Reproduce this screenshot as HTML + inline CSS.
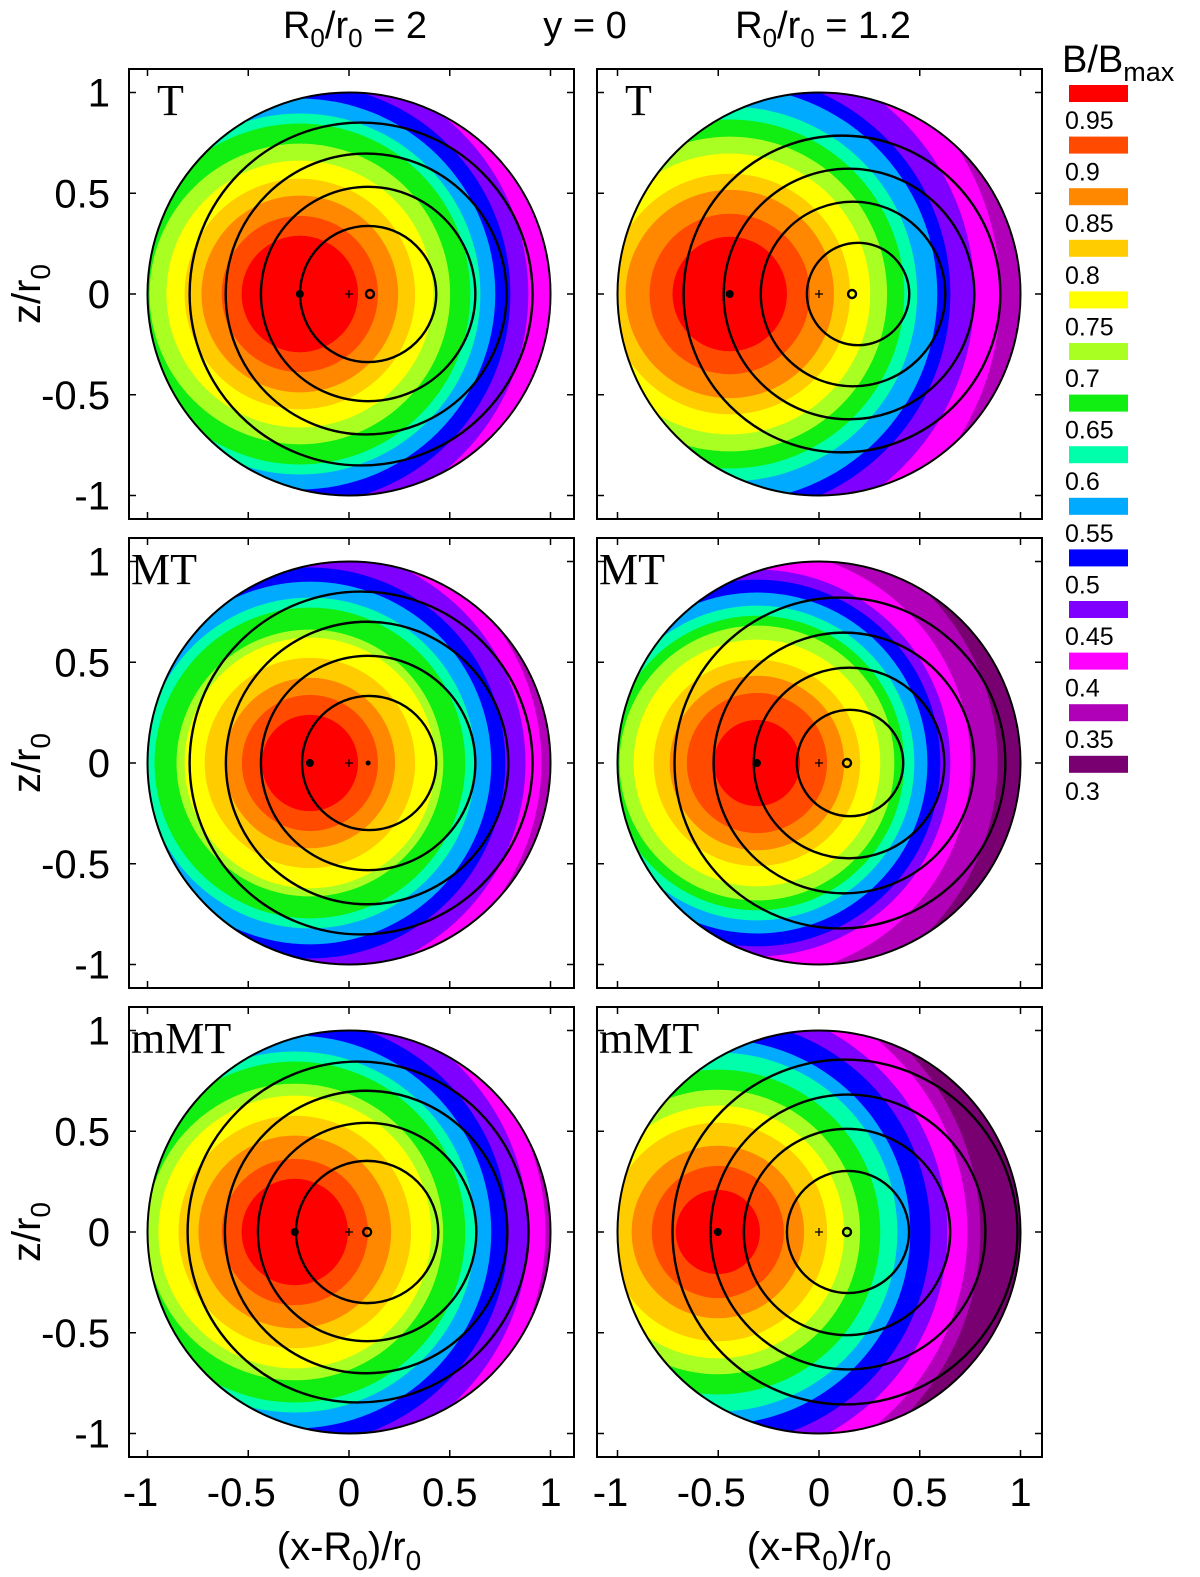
<!DOCTYPE html>
<html><head><meta charset="utf-8"><style>
html,body{margin:0;padding:0;background:#fff;}
svg{display:block;font-family:"Liberation Sans",sans-serif;}
</style></head><body>
<svg id="fig" width="1200" height="1577" viewBox="0 0 1200 1577" xmlns="http://www.w3.org/2000/svg">
<text x="355" y="38" font-size="38" text-anchor="middle">R<tspan font-size="26" dy="9">0</tspan><tspan dy="-9">/r</tspan><tspan font-size="26" dy="9">0</tspan><tspan dy="-9"> = 2</tspan></text>
<text x="585" y="38" font-size="38" text-anchor="middle">y = 0</text>
<text x="823" y="38" font-size="38" text-anchor="middle">R<tspan font-size="26" dy="9">0</tspan><tspan dy="-9">/r</tspan><tspan font-size="26" dy="9">0</tspan><tspan dy="-9"> = 1.2</tspan></text>
<text x="1062" y="72" font-size="38">B/B<tspan font-size="27" dy="9">max</tspan></text>
<g id="legend"></g>
<g id="panels"></g>
</svg>
<script>
const levels = [0.95,0.9,0.85,0.8,0.75,0.7,0.65,0.6,0.55,0.5,0.45,0.4,0.35,0.3];
const colors = ["#ff0000","#ff4a00","#ff8800","#ffcc00","#ffff00","#aaff22","#11ee11","#00ffaa","#00aaff","#0000ff","#8000ff","#ff00ff","#b000b8","#780070"];
const labels = ["T","MT","mMT","T","MT","mMT"];
const tickVals = [-1,-0.5,0,0.5,1];
const tickText = ["-1","-0.5","0","0.5","1"];
// per-panel peak location (x units) and band boundary radii (units)
const peakX = [-0.244,-0.443,-0.194,-0.308,-0.269,-0.502];
const bands0 = [0.289,0.388,0.488,0.572,0.662,0.746,0.846,0.896,0.970,1.045,1.134,1.294];
const bands1 = [0.284,0.398,0.517,0.597,0.697,0.781,0.866,0.930,1.030,1.095,1.214,1.343,1.49];
const bands2 = [0.239,0.338,0.423,0.522,0.622,0.662,0.771,0.821,0.900,0.970,1.070,1.149,1.294];
const bands3 = [0.214,0.348,0.433,0.512,0.612,0.682,0.731,0.781,0.846,0.910,0.960,1.060,1.194,1.49];
const bands4 = [0.264,0.363,0.478,0.577,0.677,0.736,0.846,0.896,0.975,1.060,1.159,1.244,1.393];
const bands5 = [0.209,0.328,0.428,0.542,0.627,0.706,0.806,0.891,0.955,1.055,1.139,1.239,1.303,1.64];
// flux surfaces: centers and radii (units)
const fluxC0 = [0.095,0.095,0.085,0.060], fluxR0 = [0.338,0.532,0.697,0.851];
const fluxC1 = [0.194,0.169,0.149,0.114], fluxR1 = [0.254,0.458,0.622,0.786];
const fluxC2 = [0.100,0.095,0.090,0.060], fluxR2 = [0.333,0.532,0.701,0.851];
const fluxC3 = [0.154,0.149,0.124,0.104], fluxR3 = [0.264,0.473,0.647,0.821];
const fluxC4 = [0.090,0.090,0.085,0.045], fluxR4 = [0.353,0.542,0.701,0.846];
const fluxC5 = [0.144,0.139,0.144,0.129], fluxR5 = [0.303,0.512,0.682,0.856];
const axisX = [0.104,0.164,0.095,0.139,0.090,0.139];
const axisOpen = [true,true,false,true,true,true];

const bands=[bands0,bands2,bands4,bands1,bands3,bands5];
const fluxC=[fluxC0,fluxC2,fluxC4,fluxC1,fluxC3,fluxC5];
const fluxR=[fluxR0,fluxR2,fluxR4,fluxR1,fluxR3,fluxR5];
const pk=[peakX[0],peakX[2],peakX[4],peakX[1],peakX[3],peakX[5]];
const ax=[axisX[0],axisX[2],axisX[4],axisX[1],axisX[3],axisX[5]];
const ao=[axisOpen[0],axisOpen[2],axisOpen[4],axisOpen[1],axisOpen[3],axisOpen[5]];

const NS="http://www.w3.org/2000/svg";
function mk(tag,attrs,parent){const e=document.createElementNS(NS,tag);for(const k in attrs)e.setAttribute(k,attrs[k]);parent.appendChild(e);return e;}
const S=201.5;
const colX0=[349,819], rowY0=[294,763,1232], boxL=[129,597];
const lg=document.getElementById('legend');
levels.forEach((v,i)=>{
  const y=85+i*51.6;
  const r=mk('rect',{x:1069,y:y,width:59,height:17,fill:colors[i]},lg);
  
  
  const t=mk('text',{x:1065,y:y+44,'font-size':25},lg);
  
  
  t.textContent=String(v);
});
const panels=document.getElementById('panels');
for(let p=0;p<6;p++){
  const col=p<3?0:1,row=p%3;
  const X0=colX0[col],Y0=rowY0[row];
  const sx=v=>X0+v*S, sy=v=>Y0-v*S;
  const g=mk('g',{},panels);
  
  
  const id='clip'+p;
  const cp=mk('clipPath',{id:id},g);
  mk('circle',{cx:sx(0),cy:sy(0),r:S},cp);
  const cg=mk('g',{'clip-path':'url(#'+id+')'},g);
  const b=bands[p];
  const bg=mk('circle',{cx:sx(0),cy:sy(0),r:S,fill:colors[b.length]},cg);
  
  
  for(let i=b.length-1;i>=0;i--){
    const c=mk('circle',{cx:sx(pk[p]),cy:sy(0),r:b[i]*S,fill:colors[i]},cg);
    
    
  }
  const edge=mk('circle',{cx:sx(0),cy:sy(0),r:S,fill:'none',stroke:'#000','stroke-width':2},g);
  
  
  fluxR[p].forEach((r,i)=>{
    const c=mk('circle',{cx:sx(fluxC[p][i]),cy:sy(0),r:r*S,fill:'none',stroke:'#000','stroke-width':2.4},g);
    
    
  });
  const d=mk('circle',{cx:sx(pk[p]),cy:sy(0),r:4,fill:'#000'},g);
  
  
  const pl=mk('path',{d:`M${sx(0)-4},${sy(0)}h8M${sx(0)},${sy(0)-4}v8`,stroke:'#000','stroke-width':1.3},g);
  
  
  const a=ao[p]?mk('circle',{cx:sx(ax[p]),cy:sy(0),r:4,fill:'none',stroke:'#000','stroke-width':2.4},g):mk('circle',{cx:sx(ax[p]),cy:sy(0),r:2.5,fill:'#000'},g);
  
  
  const bt=Y0-225, bb=Y0+225, bl=boxL[col], br=boxL[col]+445;
  const box=mk('rect',{x:bl,y:bt,width:br-bl,height:bb-bt,fill:'none',stroke:'#000','stroke-width':2},g);
  
  
  tickVals.forEach((v,i)=>{
    const tx=mk('path',{d:`M${sx(v)},${bb}v-7M${sx(v)},${bt}v7`,stroke:'#000','stroke-width':1.5},g);
    
    
    const ty=mk('path',{d:`M${bl},${sy(v)}h7M${br},${sy(v)}h-7`,stroke:'#000','stroke-width':1.5},g);
    
    
    if(col===0){
      const t=mk('text',{x:110,y:sy(v)+14,'font-size':40,'text-anchor':'end'},g);
      
      
      t.textContent=tickText[i];
    }
    if(row===2){
      const t=mk('text',{x:sx(v)+(v<0?-7:0),y:1506,'font-size':40,'text-anchor':'middle'},g);
      
      
      t.textContent=tickText[i];
    }
  });
  const lab=mk('text',{x:bl+(labels[p]==='T'?28:2),y:bt+46,'font-size':44,'font-family':'Liberation Serif, serif'},g);
  
  
  lab.textContent=labels[p];
  if(col===0){
    const yt=mk('text',{transform:`translate(40,${Y0}) rotate(-90)`,'font-size':40,'text-anchor':'middle'},g);
    
    
    yt.innerHTML='z/r<tspan font-size="28" dy="10">0</tspan>';
  }
  if(row===2){
    const xt=mk('text',{x:X0,y:1560,'font-size':40,'text-anchor':'middle'},g);
    
    
    xt.innerHTML='(x-R<tspan font-size="28" dy="10">0</tspan><tspan dy="-10">)/r</tspan><tspan font-size="28" dy="10">0</tspan>';
  }
}
</script>
</body></html>
